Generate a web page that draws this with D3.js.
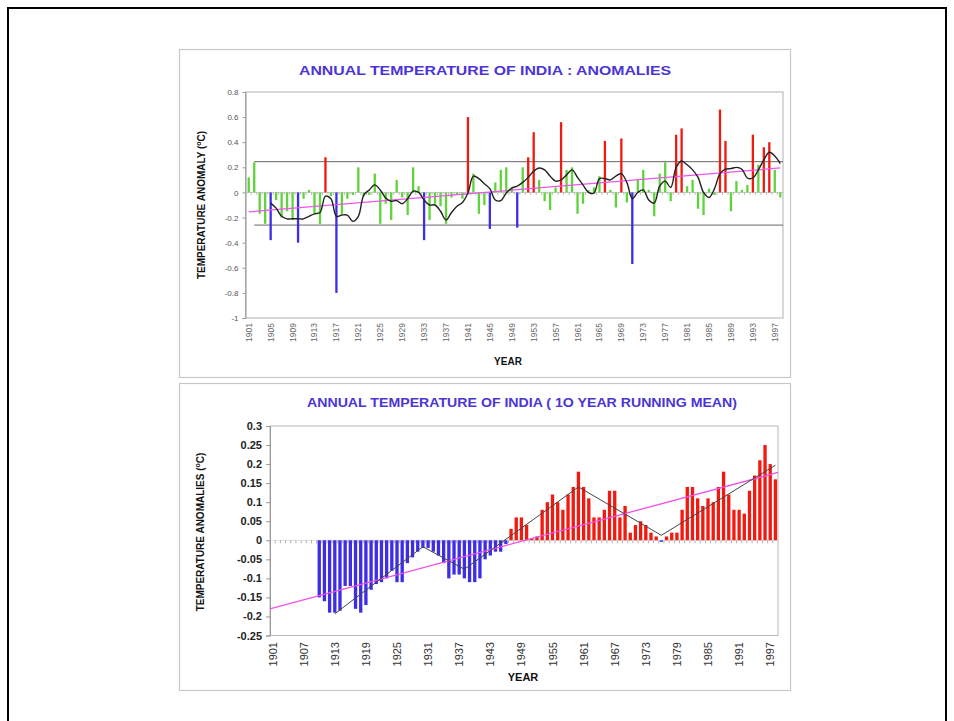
<!DOCTYPE html>
<html><head><meta charset="utf-8">
<script src="https://cdn.jsdelivr.net/npm/d3@7"></script>
<style>body{margin:0;background:#fff}svg{display:block}text{font-family:Arial,"Liberation Sans",sans-serif}</style>
</head><body>
<script>
// ---------- TOP CHART DATA (annual anomalies, 1901-1998) ----------
const years = d3.range(1901, 1999);
const annualAnomaly = [
 0.12, 0.24,-0.17,-0.25,-0.38,-0.06,-0.20,-0.15,-0.22,-0.40,
-0.05, 0.02,-0.17,-0.25, 0.28,-0.03,-0.80,-0.17,-0.05,-0.02,
 0.20,-0.03,-0.02, 0.15,-0.25,-0.09,-0.22, 0.10,-0.04,-0.18,
 0.20, 0.05,-0.38,-0.22,-0.09,-0.11,-0.25,-0.04,-0.02,-0.05,
 0.60, 0.15,-0.17,-0.10,-0.29, 0.08, 0.18, 0.20, 0.04,-0.28,
 0.20, 0.28, 0.48, 0.10,-0.07,-0.14, 0.04, 0.56, 0.18, 0.20,
-0.17,-0.09, 0.02, 0.04, 0.13, 0.41, 0.02,-0.12, 0.43,-0.08,
-0.57, 0.10, 0.18, 0.02,-0.19, 0.15, 0.24,-0.07, 0.46, 0.51,
 0.05, 0.10,-0.13,-0.18, 0.03,-0.02, 0.66, 0.41,-0.15, 0.09,
 0.02, 0.06, 0.46, 0.22, 0.36, 0.40, 0.18,-0.04];
const runningMeanYears = d3.range(1905, 1999);
const runningMean = [
-0.085,-0.125,-0.19,-0.21,-0.21,-0.21,-0.21,-0.19,-0.17,-0.16,
-0.03,-0.05,-0.19,-0.18,-0.18,-0.23,-0.19,-0.02, 0.02, 0.06,
 0.02,-0.045,-0.07,-0.065,-0.09,-0.05, 0.01, 0.0,-0.06,-0.10,
-0.10,-0.15,-0.22,-0.16,-0.11,-0.08,-0.005, 0.13, 0.11, 0.07,
 0.03,-0.06,-0.065,-0.005, 0.035, 0.05, 0.08, 0.12, 0.17, 0.195,
 0.18, 0.13, 0.09, 0.10, 0.14, 0.18, 0.12, 0.06, 0.0,-0.005,
 0.11, 0.11, 0.10, 0.13, 0.15, 0.08,-0.05, 0.0, 0.02,-0.06,
-0.085, 0.05, 0.09, 0.04, 0.20, 0.25, 0.22, 0.18, 0.12, 0.0,
-0.04, 0.03, 0.15, 0.185, 0.19, 0.20, 0.185, 0.115, 0.115, 0.18,
 0.26, 0.32, 0.29, 0.23];
const topTrendYears = [1901, 1998];
const topTrend = [-0.155, 0.195];
const topUpperLimit = 0.245;
const topLowerLimit = -0.26;
const topLimitYears = [1902, 1998];
const topYTicks = [0.8, 0.6, 0.4, 0.2, 0, -0.2, -0.4, -0.6, -0.8, -1];
const topXTicks = d3.range(1901, 1999, 4);

// ---------- BOTTOM CHART DATA (10-year running mean, 1910-1998) ----------
const meanYears = d3.range(1910, 1999);
const tenYearMean = [
-0.15,-0.16,-0.19,-0.19,-0.185,-0.12,-0.12,-0.18,-0.19,-0.17,
-0.13,-0.115,-0.11,-0.10,-0.08,-0.11,-0.11,-0.06,-0.045,-0.03,
-0.02,-0.02,-0.03,-0.04,-0.06,-0.10,-0.09,-0.09,-0.10,-0.11,
-0.11,-0.10,-0.05,-0.04,-0.03,-0.03,-0.01,
 0.03, 0.06, 0.06, 0.04, 0.005, 0.01, 0.08, 0.10, 0.12, 0.10,
 0.08, 0.12, 0.14, 0.18, 0.14, 0.11, 0.06, 0.06, 0.08, 0.13,
 0.13, 0.06, 0.09, 0.02, 0.04, 0.05, 0.04, 0.02, 0.01,-0.003,
 0.01, 0.02, 0.02, 0.08, 0.14, 0.14, 0.11, 0.09, 0.11, 0.10,
 0.14, 0.18, 0.12, 0.08, 0.08, 0.07, 0.13, 0.17, 0.21, 0.25,
 0.20, 0.16];
const zigzagYears = [1913, 1930, 1938, 1960, 1976, 1998];
const zigzagValues = [-0.193, -0.017, -0.076, 0.14, 0.013, 0.197];
const bottomTrendYears = [1901, 1998];
const bottomTrend = [-0.18, 0.178];
const bottomYTicks = [0.3, 0.25, 0.2, 0.15, 0.1, 0.05, 0, -0.05, -0.1, -0.15, -0.2, -0.25];
const bottomXTicks = d3.range(1901, 1999, 6);

const W = 954, H = 721;
const svg = d3.select("body").append("svg").attr("width", W).attr("height", H);

// outer frame
svg.append("rect").attr("x", 8).attr("y", 8).attr("width", 938).attr("height", 730)
  .attr("fill", "none").attr("stroke", "#000").attr("stroke-width", 2);

// panel boxes
svg.append("rect").attr("x", 179.5).attr("y", 49.5).attr("width", 611).attr("height", 328)
  .attr("fill", "#fff").attr("stroke", "#c8c8c8").attr("stroke-width", 1.2);
svg.append("rect").attr("x", 179.5).attr("y", 383.5).attr("width", 611).attr("height", 307)
  .attr("fill", "#fff").attr("stroke", "#c8c8c8").attr("stroke-width", 1.2);

const titleColor = "#4b35d6";
const green = "#5fd43a", red = "#f01a10", blue = "#3d2ee6";

// ================= TOP CHART =================
{
  const x = d3.scaleBand().domain(years).range([246, 783]).paddingInner(0.58).paddingOuter(0.29);
  const cx = y => x(y) + x.bandwidth() / 2;
  const y = d3.scaleLinear().domain([-1, 0.8]).range([318, 92]);
  const g = svg.append("g");

  g.append("text").attr("x", 485).attr("y", 75).attr("text-anchor", "middle")
    .attr("font-size", 12).attr("font-weight", "bold").attr("fill", titleColor)
    .attr("textLength", 372).attr("lengthAdjust", "spacingAndGlyphs")
    .text("ANNUAL TEMPERATURE OF INDIA : ANOMALIES");

  // plot border
  g.append("rect").attr("x", 245.5).attr("y", 92).attr("width", 537.5).attr("height", 226)
    .attr("fill", "none").attr("stroke", "#b0b0b0").attr("stroke-width", 1);

  // y axis
  const ya = d3.axisLeft(y).tickValues(topYTicks).tickSize(3).tickFormat(d => String(d));
  const yg = g.append("g").attr("transform", "translate(245.5,0)").call(ya);
  yg.select(".domain").attr("stroke", "#999");
  yg.selectAll(".tick line").attr("stroke", "#999");
  yg.selectAll(".tick text").attr("font-size", 8).attr("fill", "#555").attr("x", -7)
    .style("font-family", "Arial, 'Liberation Sans', sans-serif");

  // zero axis with ticks
  g.append("line").attr("x1", 246).attr("x2", 783).attr("y1", y(0)).attr("y2", y(0))
    .attr("stroke", "#bbb").attr("stroke-width", 0.8);
  g.selectAll(".zt").data(years).enter().append("line")
    .attr("x1", d => x(d) - x.step() * x.paddingInner() / 2 - 0.2)
    .attr("x2", d => x(d) - x.step() * x.paddingInner() / 2 - 0.2)
    .attr("y1", y(0)).attr("y2", y(0) + 2.5).attr("stroke", "#aaa").attr("stroke-width", 0.8);

  // limit lines
  [topUpperLimit, topLowerLimit].forEach(v => {
    g.append("line").attr("x1", cx(topLimitYears[0])).attr("x2", 783)
      .attr("y1", y(v)).attr("y2", y(v)).attr("stroke", "#666").attr("stroke-width", 1);
  });

  // bars
  g.selectAll(".bar").data(years.map((yr, i) => ({yr, v: annualAnomaly[i]}))).enter().append("rect")
    .attr("x", d => x(d.yr)).attr("width", x.bandwidth())
    .attr("y", d => y(Math.max(0, d.v))).attr("height", d => Math.abs(y(d.v) - y(0)))
    .attr("fill", d => d.v > topUpperLimit ? red : (d.v < topLowerLimit ? blue : green));

  // trend
  g.append("path").datum(topTrendYears.map((yr, i) => [cx(yr), y(topTrend[i])]))
    .attr("d", d3.line()).attr("stroke", "#ee55ee").attr("stroke-width", 1.3).attr("fill", "none");

  // running mean
  g.append("path").datum(runningMeanYears.map((yr, i) => [cx(yr), y(runningMean[i])]))
    .attr("d", d3.line().curve(d3.curveCatmullRom)).attr("stroke", "#222").attr("stroke-width", 1.4).attr("fill", "none");

  // x labels
  g.selectAll(".xl").data(topXTicks).enter().append("text")
    .attr("transform", d => `translate(${cx(d) + 3},323) rotate(-90)`)
    .attr("text-anchor", "end").attr("font-size", 8.5).attr("fill", "#666").text(d => d);

  g.append("text").attr("x", 508).attr("y", 365).attr("text-anchor", "middle")
    .attr("font-size", 10).attr("font-weight", "bold").attr("fill", "#111").text("YEAR");

  const yt = g.append("text").attr("transform", "translate(205,205) rotate(-90)")
    .attr("text-anchor", "middle").attr("font-size", 10).attr("font-weight", "bold").attr("fill", "#111");
  yt.append("tspan").text("TEMPERATURE ANOMALY (");
  yt.append("tspan").attr("font-size", 7).attr("dy", -4).text("o");
  yt.append("tspan").attr("dy", 4).text("C)");
}

// ================= BOTTOM CHART =================
{
  const x = d3.scaleBand().domain(years).range([270, 778]).paddingInner(0.36).paddingOuter(0.18);
  const cx = y => x(y) + x.bandwidth() / 2;
  const y = d3.scaleLinear().domain([-0.25, 0.3]).range([635.5, 426]);
  const g = svg.append("g");

  g.append("text").attr("x", 522).attr("y", 407).attr("text-anchor", "middle")
    .attr("font-size", 12).attr("font-weight", "bold").attr("fill", titleColor)
    .attr("textLength", 430).attr("lengthAdjust", "spacingAndGlyphs")
    .text("ANNUAL TEMPERATURE OF INDIA ( 1O YEAR RUNNING MEAN)");

  g.append("rect").attr("x", 270).attr("y", 426).attr("width", 508).attr("height", 209.5)
    .attr("fill", "none").attr("stroke", "#b8b8b8").attr("stroke-width", 1);

  const ya = d3.axisLeft(y).tickValues(bottomYTicks).tickSize(4).tickFormat(d => String(d));
  const yg = g.append("g").attr("transform", "translate(270,0)").call(ya);
  yg.select(".domain").attr("stroke", "#999");
  yg.selectAll(".tick line").attr("stroke", "#999");
  yg.selectAll(".tick text").attr("font-size", 11).attr("fill", "#222").attr("x", -8)
    .attr("font-weight", "bold")
    .style("font-family", "Arial, 'Liberation Sans', sans-serif");

  // zero axis ticks
  g.append("line").attr("x1", 270).attr("x2", 778).attr("y1", y(0)).attr("y2", y(0))
    .attr("stroke", "#ccc").attr("stroke-width", 0.6);
  g.selectAll(".zt").data(years).enter().append("line")
    .attr("x1", d => x(d) - x.step() * x.paddingInner() / 2)
    .attr("x2", d => x(d) - x.step() * x.paddingInner() / 2)
    .attr("y1", y(0)).attr("y2", y(0) + 3).attr("stroke", "#999").attr("stroke-width", 0.8);

  // bars
  g.selectAll(".bar").data(meanYears.map((yr, i) => ({yr, v: tenYearMean[i]}))).enter().append("rect")
    .attr("x", d => x(d.yr)).attr("width", x.bandwidth())
    .attr("y", d => y(Math.max(0, d.v))).attr("height", d => Math.max(1.5, Math.abs(y(d.v) - y(0))))
    .attr("fill", d => d.v >= 0 ? red : blue);

  // trend
  g.append("path").datum(bottomTrendYears.map((yr, i) => [x(yr) + (i === 0 ? -1 : x.bandwidth() + 1), y(bottomTrend[i])]))
    .attr("d", d3.line()).attr("stroke", "#f050e8").attr("stroke-width", 1.3).attr("fill", "none");

  // zigzag
  g.append("path").datum(zigzagYears.map((yr, i) => [cx(yr), y(zigzagValues[i])]))
    .attr("d", d3.line()).attr("stroke", "#444").attr("stroke-width", 1).attr("fill", "none");

  g.selectAll(".xl").data(bottomXTicks).enter().append("text")
    .attr("transform", d => `translate(${cx(d) + 4},642) rotate(-90)`)
    .attr("text-anchor", "end").attr("font-size", 11).attr("fill", "#333").text(d => d);

  g.append("text").attr("x", 523).attr("y", 681).attr("text-anchor", "middle")
    .attr("font-size", 11).attr("font-weight", "bold").attr("fill", "#111").text("YEAR");

  const yt = g.append("text").attr("transform", "translate(204,532) rotate(-90)")
    .attr("text-anchor", "middle").attr("font-size", 10).attr("font-weight", "bold").attr("fill", "#111");
  yt.append("tspan").text("TEMPERATURE ANOMALIES (");
  yt.append("tspan").attr("font-size", 7).attr("dy", -4).text("o");
  yt.append("tspan").attr("dy", 4).text("C)");
}
</script>
</body></html>
